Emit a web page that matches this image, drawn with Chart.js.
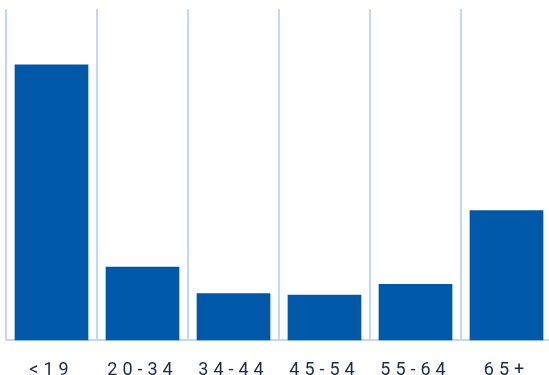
<!DOCTYPE html>
<html>
<head>
<meta charset="utf-8">
<script src="https://cdn.jsdelivr.net/npm/chart.js@4"></script>
<style>
  html, body { margin: 0; padding: 0; background: #fff; overflow: hidden; }
  #wrap { width: 558px; height: 400px; }
</style>
</head>
<body>
<div id="wrap"><canvas id="ageChart" width="558" height="400"></canvas></div>
<script>
const ageGroups = ['<19', '20-34', '34-44', '45-54', '55-64', '65+']
const shares = [33.3, 8.9, 5.7, 5.5, 6.8, 15.7]

const gridColor = '#c3d7fb'
const barColor = '#0058a9'

const spacing = {
  id: 'spacing',
  beforeDraw(chart) { chart.ctx.letterSpacing = '5px' }
}

new Chart(document.getElementById('ageChart'), {
  type: 'bar',
  data: {
    labels: ageGroups,
    datasets: [{
      data: shares,
      backgroundColor: barColor,
      borderWidth: 0,
      barPercentage: 0.9,
      categoryPercentage: 0.9
    }]
  },
  options: {
    responsive: false,
    animation: false,
    layout: { padding: { left: 6, right: 6, top: 9, bottom: 0 } },
    plugins: { legend: { display: false }, tooltip: { enabled: false } },
    scales: {
      x: {
        grid: { color: gridColor, lineWidth: 2, drawTicks: false, offset: true },
        border: { color: gridColor, width: 2 },
        ticks: { color: '#1a2a4a', font: { family: 'Roboto', size: 18 }, padding: 19 }
      },
      y: {
        display: false,
        min: 0,
        max: 40
      }
    }
  },
  plugins: [spacing]
})
</script>
</body>
</html>
